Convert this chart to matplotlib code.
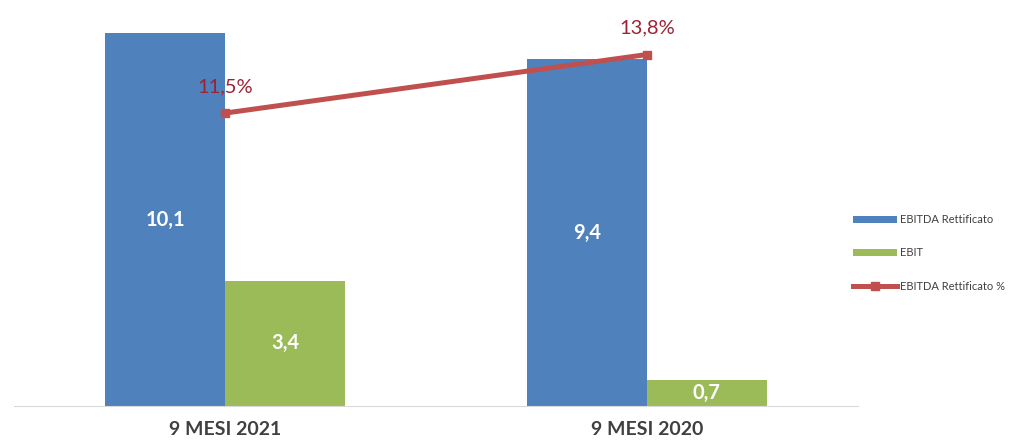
import matplotlib.pyplot as plt
import numpy as np

# data
periods = ["9 MESI 2021", "9 MESI 2020"]
ebitda_rett = [10.1, 9.4]
ebit = [3.4, 0.7]
ebitda_pct = [11.5, 13.8]

blue = "#4f81bd"
green = "#9bbb59"
red = "#c0504d"

plt.rcParams["font.family"] = ["Lato", "DejaVu Sans"]

fig = plt.figure(figsize=(10.27, 4.41), dpi=100)
ax = fig.add_axes([14 / 1027, 35 / 441, 844 / 1027, 406 / 441])
ax2 = ax.twinx()

x = np.arange(len(periods))
w = 0.284
b1 = ax.bar(x - w / 2, ebitda_rett, w, color=blue, label="EBITDA Rettificato")
b2 = ax.bar(x + w / 2, ebit, w, color=green, label="EBIT")

for bars, vals in [(b1, ebitda_rett), (b2, ebit)]:
    for r, v in zip(bars, vals):
        ax.text(r.get_x() + r.get_width() / 2, v / 2, f"{v:.1f}".replace(".", ","),
                ha="center", va="center", color="white", fontsize=14.5, fontweight="bold")

ln, = ax2.plot(x, ebitda_pct, color=red, lw=3.6, marker="s", markersize=6,
               label="EBITDA Rettificato %")
for xi, v in zip(x, ebitda_pct):
    ax2.text(xi, v + 0.7, f"{v:.1f}%".replace(".", ","), ha="center", va="bottom",
             color="#9b2335", fontsize=14.5)

ax.set_xlim(-0.5, 1.5)
ax.set_ylim(0, 11)
ax2.set_ylim(0, 15.94)

for a in (ax, ax2):
    for s in a.spines.values():
        s.set_visible(False)
    a.set_yticks([])
ax.spines["bottom"].set_visible(True)
ax.spines["bottom"].set_color("#d9d9d9")
ax.set_xticks(x)
ax.set_xticklabels(periods, fontsize=14, fontweight="bold", color="#404040")
ax.tick_params(axis="x", length=0, pad=11)

fig.legend(handles=[b1, b2, ln], loc="center left", bbox_to_anchor=(843 / 1027, 1 - 253 / 441),
           frameon=False, fontsize=8, handlelength=4.0, handleheight=0.6, labelspacing=2.0,
           labelcolor="#404040", handletextpad=0.25)

fig.savefig("out.png", dpi=100)
